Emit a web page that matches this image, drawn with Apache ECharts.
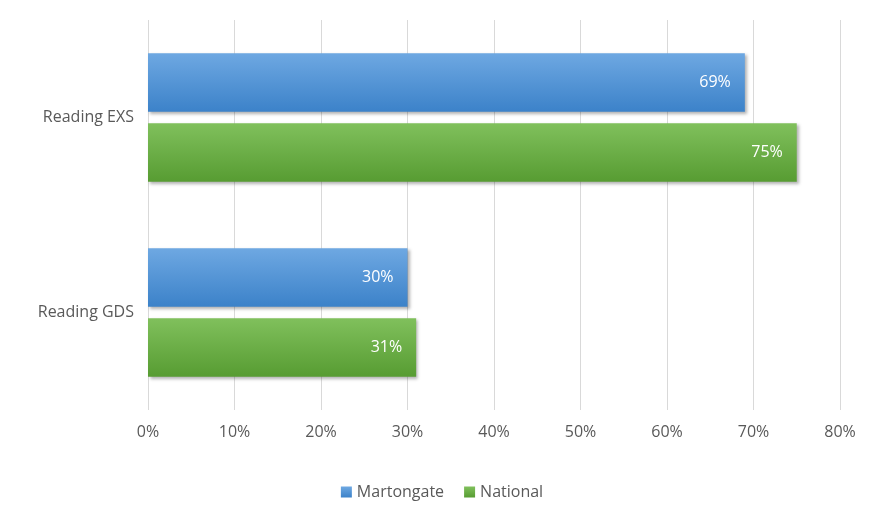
<!DOCTYPE html>
<html>
<head>
<meta charset="utf-8">
<script src="https://cdn.jsdelivr.net/npm/echarts@6/dist/echarts.min.js"></script>
<style>html,body{margin:0;padding:0;background:#fff}#chart{width:884px;height:525px}</style>
</head>
<body>
<div id="chart"></div>
<script>
const categories = ["Reading EXS", "Reading GDS"];
const martongate = [69, 30];
const national = [75, 31];
const ticks = [0, 10, 20, 30, 40, 50, 60, 70, 80];

const chart = echarts.init(document.getElementById("chart"));
const font = "'Open Sans', 'Noto Sans', sans-serif";

function grad(top, bottom) {
  return new echarts.graphic.LinearGradient(0, 0, 0, 1, [
    { offset: 0, color: top },
    { offset: 1, color: bottom }
  ]);
}

const label = {
  show: true,
  position: "insideRight",
  color: "#fff",
  fontSize: 16,
  fontFamily: font,
  distance: 14,
  formatter: p => p.value + "%"
};

chart.setOption({
  animation: false,
  textStyle: { fontFamily: font },
  grid: { left: 148, right: 44, top: 20, bottom: 115, containLabel: false },
  legend: {
    bottom: 20,
    left: "center",
    itemWidth: 11,
    itemHeight: 11,
    itemGap: 20,
    icon: "rect",
    textStyle: { color: "#595959", fontSize: 16, fontFamily: font },
    data: ["Martongate", "National"]
  },
  xAxis: {
    type: "value",
    min: ticks[0],
    max: ticks[ticks.length - 1],
    interval: 10,
    axisLabel: { formatter: "{value}%", color: "#595959", fontSize: 16, margin: 14 },
    splitLine: { lineStyle: { color: "#d9d9d9", width: 1 } },
    axisLine: { show: false },
    axisTick: { show: false }
  },
  yAxis: {
    type: "category",
    data: categories,
    inverse: true,
    axisLabel: { color: "#595959", fontSize: 16, margin: 14 },
    axisLine: { show: false },
    axisTick: { show: false }
  },
  series: [
    {
      name: "Martongate",
      type: "bar",
      data: martongate,
      barGap: "20%",
      barCategoryGap: "34%",
      itemStyle: { color: grad("#6ea8e2", "#3c82c9"), shadowColor: "rgba(0,0,0,0.3)", shadowBlur: 3, shadowOffsetX: 2, shadowOffsetY: 2 },
      label
    },
    {
      name: "National",
      type: "bar",
      data: national,
      itemStyle: { color: grad("#80c05c", "#579c32"), shadowColor: "rgba(0,0,0,0.3)", shadowBlur: 3, shadowOffsetX: 2, shadowOffsetY: 2 },
      label
    }
  ]
});
</script>
</body>
</html>
